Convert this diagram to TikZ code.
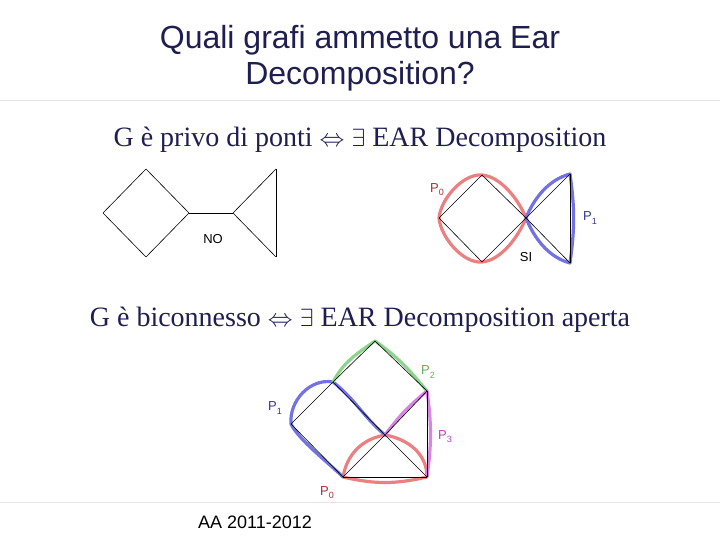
\documentclass[tikz,border=0pt]{standalone}
\usepackage{amsmath}
\usepackage{amssymb}
\usepackage{fontspec}
\setmainfont{Liberation Serif}
\setsansfont{Liberation Sans}
\usepackage{xcolor}
\definecolor{navy}{HTML}{1E1E50}
\definecolor{sepgray}{HTML}{E4E4E4}
\definecolor{earred}{HTML}{EC8080}
\definecolor{earblue}{HTML}{7272E2}
\definecolor{eargreen}{HTML}{8CD68C}
\definecolor{earpink}{HTML}{D884E2}
\definecolor{labred}{HTML}{B82838}
\definecolor{labblue}{HTML}{3434A0}
\definecolor{labgreen}{HTML}{5CB05C}
\definecolor{labpink}{HTML}{C040C0}
\newcommand{\earlab}[1]{P\raisebox{-0.45ex}{\fontsize{9}{9}\selectfont #1}}

\begin{document}
\begin{tikzpicture}[x=1pt, y=1pt,
  edge/.style={black, line width=0.6pt},
  ear/.style={line width=3.2pt, line cap=round, line join=round},
  lab/.style={font=\sffamily\fontsize{13}{13}\selectfont, inner sep=0pt},
  body/.style={font=\fontsize{28}{28}\selectfont, text=navy, inner sep=0pt}]
\useasboundingbox (0,0) rectangle (720,540);

\draw[sepgray, line width=0.8pt] (0,440) -- (720,440);
\draw[sepgray, line width=0.8pt] (0,38) -- (720,38);

\node[font=\sffamily\fontsize{32}{36}\selectfont, text=navy, align=center] (title) at (360,482) {Quali grafi ammetto una Ear\\Decomposition?};
\node[body] (thm1) at (360,400) {G è privo di ponti $\Leftrightarrow$ $\exists$ EAR Decomposition};
\node[body] (thm2) at (360,220) {G è biconnesso $\Leftrightarrow$ $\exists$ EAR Decomposition aperta};
\node[font=\sffamily\fontsize{18}{18}\selectfont, inner sep=0pt] (aa) at (255,18) {AA 2011-2012};

\coordinate (a1) at (103,327);
\coordinate (a2) at (146,371);
\coordinate (a3) at (146,283);
\coordinate (a4) at (189,327);
\coordinate (a5) at (233,327);
\coordinate (a6) at (276,371);
\coordinate (a7) at (276,283);

\draw[edge] (a1) -- (a2);
\draw[edge] (a2) -- (a4);
\draw[edge] (a4) -- (a3);
\draw[edge] (a3) -- (a1);
\draw[edge] (a4) -- (a5);
\draw[edge] (a5) -- (a6);
\draw[edge] (a6) -- (a7);
\draw[edge] (a7) -- (a5);
\node[lab] (no) at (213,301) {NO};

\coordinate (b1) at (439,322);
\coordinate (b2) at (482,365);
\coordinate (b3) at (482,278);
\coordinate (b4) at (526,322);
\coordinate (b5) at (570,366);
\coordinate (b6) at (570,277);

\draw[ear, earred] (b4) to[out=112, in=-5, looseness=0.8] (b2) to[out=175, in=85, looseness=0.8] (b1)
  to[out=-85, in=185, looseness=0.8] (b3) to[out=5, in=-112, looseness=0.8] (b4);
\draw[ear, earblue] (b4) to[out=68, in=195, looseness=0.9] (b5) to[bend left=8] (b6) to[out=165, in=-68, looseness=0.9] (b4);
\draw[edge] (b1) -- (b2);
\draw[edge] (b2) -- (b4);
\draw[edge] (b4) -- (b3);
\draw[edge] (b3) -- (b1);
\draw[edge] (b4) -- (b5);
\draw[edge] (b5) -- (b6);
\draw[edge] (b6) -- (b4);
\node[lab, text=labred] (p0a) at (437,350) {\earlab{0}};
\node[lab, text=labblue] (p1a) at (590,322) {\earlab{1}};
\node[lab] (si) at (526,283) {SI};

\coordinate (c1) at (375,199);
\coordinate (c2) at (333,158);
\coordinate (c3) at (427,149);
\coordinate (c4) at (291,116);
\coordinate (c5) at (385,105);
\coordinate (c6) at (343,63);
\coordinate (c7) at (427,63);

\draw[ear, earred] (c6) to[out=80, in=190] (c5) to[out=-10, in=90] (c7) to[out=193, in=-13] (c6);
\draw[ear, earblue] (c6) to[out=135, in=-65, looseness=0.6] (c4) to[out=95, in=170] (c2) to[out=-38, in=140] (c5);
\draw[ear, eargreen] (c2) to[out=62, in=215] (c1) to[out=-35, in=130] (c3);
\draw[ear, earpink] (c5) to[bend left=7] (c3) to[bend left=8] (c7);
\draw[edge] (c1) -- (c2);
\draw[edge] (c1) -- (c3);
\draw[edge] (c2) -- (c4);
\draw[edge] (c2) -- (c5);
\draw[edge] (c4) -- (c6);
\draw[edge] (c6) -- (c5);
\draw[edge] (c5) -- (c3);
\draw[edge] (c5) -- (c7);
\draw[edge] (c6) -- (c7);
\draw[edge] (c3) -- (c7);
\node[lab, text=labgreen] (p2b) at (428,168) {\earlab{2}};
\node[lab, text=labblue] (p1b) at (275,132) {\earlab{1}};
\node[lab, text=labpink] (p3b) at (445,103) {\earlab{3}};
\node[lab, text=labred] (p0b) at (327,47) {\earlab{0}};
\end{tikzpicture}
\end{document}
